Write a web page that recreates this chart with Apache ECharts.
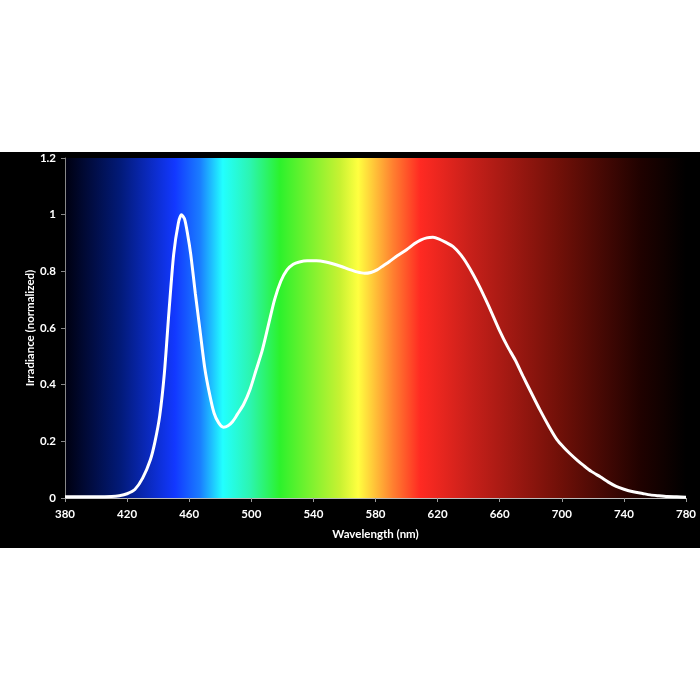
<!DOCTYPE html>
<html>
<head>
<meta charset="utf-8">
<script src="https://cdn.jsdelivr.net/npm/echarts@6/dist/echarts.min.js"></script>
<style>
  html, body { margin: 0; padding: 0; background: #fff; }
  #page { position: relative; width: 700px; height: 700px; background: #fff; }
  #chart { position: absolute; left: 0; top: 152px; width: 700px; height: 396px; }
</style>
</head>
<body>
<div id="page"><div id="chart"></div></div>
<script>
// wavelength (nm) / normalized irradiance
const wavelength = [380, 390, 400, 410, 415, 420, 425, 430, 435, 438, 441, 444, 447, 450, 453, 455, 457, 459, 461, 464,
  467, 470, 473, 476, 479, 482, 485, 488, 491, 495, 499, 503, 507, 511, 515, 519, 523, 527, 531, 536,
  542, 548, 553, 558, 563, 568, 573, 577, 581, 585, 589, 594, 600, 605, 609, 613, 617, 621, 625, 630,
  635, 639, 643, 647, 651, 655, 660, 665, 670, 675, 680, 686, 692, 697, 701, 705, 710, 714, 719, 725,
  730, 735, 740, 746, 752, 757, 762, 768, 774, 780]
const irradiance = [0.004, 0.004, 0.004, 0.005, 0.008, 0.015, 0.03, 0.07, 0.135, 0.2, 0.29, 0.44, 0.66, 0.86, 0.97, 1.0, 0.985, 0.93, 0.86, 0.72,
  0.59, 0.46, 0.37, 0.30, 0.265, 0.25, 0.255, 0.27, 0.295, 0.33, 0.38, 0.45, 0.52, 0.61, 0.7, 0.765, 0.805, 0.825, 0.833, 0.837,
  0.837, 0.833, 0.826, 0.817, 0.807, 0.798, 0.793, 0.796, 0.805, 0.82, 0.835, 0.855, 0.876, 0.897, 0.91, 0.918, 0.92, 0.914, 0.903, 0.887,
  0.858, 0.826, 0.788, 0.746, 0.70, 0.652, 0.59, 0.535, 0.487, 0.43, 0.375, 0.31, 0.25, 0.205, 0.18, 0.158, 0.133, 0.115, 0.094, 0.074,
  0.056, 0.041, 0.031, 0.022, 0.016, 0.011, 0.008, 0.005, 0.004, 0.003]

// spectrum colours behind the plot
const spectrumStops = [
  { offset: 0, color: '#00000f' },
  { offset: 0.089, color: '#021a78' },
  { offset: 0.177, color: '#1238ff' },
  { offset: 0.217, color: '#1a7cff' },
  { offset: 0.254, color: '#22ffff' },
  { offset: 0.298, color: '#2cf5b0' },
  { offset: 0.346, color: '#2cf22c' },
  { offset: 0.443, color: '#c8f232' },
  { offset: 0.472, color: '#ffff40' },
  { offset: 0.528, color: '#ff8030' },
  { offset: 0.572, color: '#ff2a22' },
  { offset: 0.652, color: '#c8201a' },
  { offset: 0.797, color: '#701008' },
  { offset: 0.926, color: '#200200' },
  { offset: 1, color: '#000000' }
]

const chart = echarts.init(document.getElementById('chart'))

const labelFont = {
  color: '#ffffff',
  fontFamily: 'Lato',
  fontWeight: 'bold',
  fontSize: 11.5
}

chart.setOption({
  animation: false,
  backgroundColor: '#000000',
  grid: {
    show: true,
    left: 65,
    right: 14,
    top: 6,
    bottom: 50,
    borderWidth: 0,
    backgroundColor: new echarts.graphic.LinearGradient(0, 0, 1, 0, spectrumStops)
  },
  xAxis: {
    type: 'value',
    min: 380,
    max: 780,
    interval: 40,
    name: 'Wavelength (nm)',
    nameLocation: 'middle',
    nameGap: 30,
    nameTextStyle: labelFont,
    axisLabel: Object.assign({ margin: 10 }, labelFont),
    axisLine: { show: true, lineStyle: { color: '#bbbbbb', width: 1 } },
    axisTick: { show: true, length: 4, lineStyle: { color: '#999999' } },
    splitLine: { show: false }
  },
  yAxis: {
    type: 'value',
    min: 0,
    max: 1.2,
    interval: 0.2,
    name: 'Irradiance (normalized)',
    nameLocation: 'middle',
    nameGap: 29,
    nameMoveOverlap: false,
    nameTextStyle: labelFont,
    axisLabel: Object.assign({ margin: 9 }, labelFont),
    axisLine: { show: true, lineStyle: { color: '#888888', width: 1 } },
    axisTick: { show: true, length: 4, lineStyle: { color: '#888888' } },
    splitLine: { show: false }
  },
  series: [{
    type: 'line',
    smooth: 0.25,
    symbol: 'none',
    lineStyle: { color: '#ffffff', width: 3 },
    data: wavelength.map((w, i) => [w, irradiance[i]])
  }]
})
</script>
</body>
</html>
